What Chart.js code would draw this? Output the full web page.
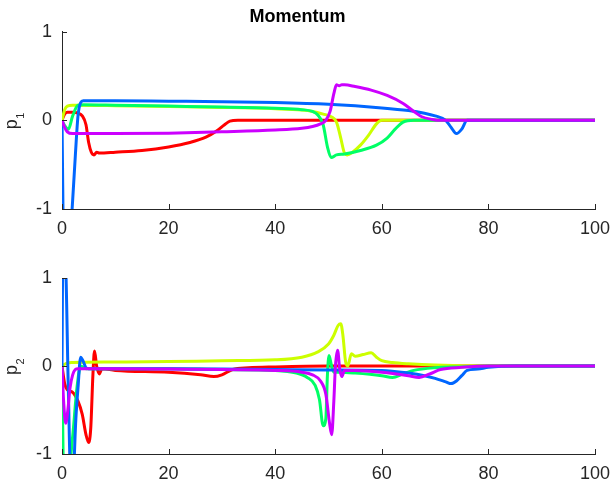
<!DOCTYPE html>
<html>
<head>
<meta charset="utf-8">
<script src="https://cdn.jsdelivr.net/npm/chart.js@4/dist/chart.umd.min.js"></script>
<style>
	html, body { margin: 0; padding: 0; background: #fff; }
	#wrap { position: relative; width: 610px; height: 486px; }
	.box { position: absolute; left: 0; width: 610px; height: 243px; }
</style>
</head>
<body>
<div id="wrap">
	<div class="box" style="top:0"><canvas id="top"></canvas></div>
	<div class="box" style="top:243px"><canvas id="bottom"></canvas></div>
</div>
<script>
// series names / colours (hsv(5))
const names = ['1', '2', '3', '4', '5'];
const colors = ['#ff0000', '#ccff00', '#00ff66', '#0066ff', '#cc00ff'];
const xTicks = [0, 20, 40, 60, 80, 100];
const yTicks = [-1, 0, 1];

// p1 (top panel)
const p1RedX = [0, 0.5, 1, 2, 3, 3.8, 4.5, 5, 5.5, 6, 6.5, 7, 10, 15, 20, 24, 27, 29, 30.5, 31.5, 33, 40, 100];
const p1RedY = [0, 0.07, 0.09, 0.09, 0.08, 0.05, -0.05, -0.25, -0.36, -0.39, -0.36, -0.37, -0.36, -0.34, -0.30, -0.25, -0.19, -0.12, -0.05, -0.01, 0, 0, 0];
const p1YelX = [0, 0.5, 1, 2, 10, 20, 30, 40, 45, 47, 49, 50.5, 51.5, 52.3, 53, 53.5, 54.5, 56, 57.5, 59, 60, 62, 100];
const p1YelY = [0, 0.12, 0.16, 0.17, 0.165, 0.155, 0.145, 0.13, 0.115, 0.1, 0.07, 0.04, -0.02, -0.2, -0.37, -0.39, -0.36, -0.28, -0.17, -0.04, 0, 0, 0];
const p1GrnX = [0, 0.5, 1.2, 2, 3, 4, 10, 20, 30, 40, 45, 47, 48, 49, 49.8, 50.5, 51.5, 53, 56, 59, 61, 62.5, 64, 66, 100];
const p1GrnY = [0, -0.06, -0.1, 0.05, 0.17, 0.175, 0.17, 0.16, 0.15, 0.135, 0.12, 0.1, 0.06, -0.05, -0.3, -0.42, -0.39, -0.38, -0.34, -0.28, -0.2, -0.1, -0.02, 0, 0];
const p1BluX = [0, 0.3, 1.5, 2, 2.5, 3, 3.5, 4, 10, 20, 30, 40, 50, 60, 65, 68, 70, 72, 73, 74, 75, 76, 80, 100];
const p1BluY = [0, -1.3, -1.3, -0.9, -0.4, 0.05, 0.2, 0.22, 0.22, 0.215, 0.21, 0.2, 0.18, 0.14, 0.11, 0.08, 0.05, 0.0, -0.08, -0.15, -0.1, 0, 0, 0];
const p1MagX = [0, 0.5, 1, 2, 10, 20, 30, 40, 45, 47, 48.5, 49.5, 50.3, 51, 51.5, 52, 52.5, 53, 55, 58, 61, 64, 66, 67.5, 69.5, 71, 100];
const p1MagY = [0, -0.08, -0.13, -0.15, -0.15, -0.145, -0.13, -0.11, -0.09, -0.07, -0.04, 0.0, 0.1, 0.3, 0.4, 0.39, 0.4, 0.4, 0.38, 0.34, 0.28, 0.19, 0.1, 0.04, 0.01, 0, 0];

// p2 (bottom panel)
const p2RedX = [0, 0.5, 1, 2, 3, 3.8, 4.5, 5, 5.4, 5.8, 6.1, 6.5, 7, 7.5, 10, 20, 26, 28.5, 30, 32, 35, 40, 50, 100];
const p2RedY = [0, -0.2, -0.27, -0.3, -0.4, -0.55, -0.78, -0.87, -0.7, -0.1, 0.17, 0.0, -0.09, -0.03, -0.05, -0.07, -0.1, -0.12, -0.1, -0.04, -0.02, -0.01, 0, 0];
const p2YelX = [0, 0.5, 1, 2, 10, 20, 30, 40, 45, 48, 50, 51, 51.8, 52.3, 52.7, 53.2, 53.6, 54.3, 55, 56.5, 58, 59, 60, 62, 65, 70, 80, 100];
const p2YelY = [0, 0.02, 0.035, 0.04, 0.045, 0.05, 0.06, 0.07, 0.1, 0.16, 0.25, 0.35, 0.46, 0.48, 0.35, 0.05, 0.0, 0.14, 0.11, 0.13, 0.15, 0.1, 0.06, 0.04, 0.025, 0.01, 0, 0];
const p2GrnX = [0, 0.3, 1.2, 2, 2.8, 3.5, 4.5, 10, 20, 30, 40, 44, 46, 47.5, 48.3, 49, 49.5, 49.8, 50.1, 50.5, 51, 52, 55, 60, 62, 64, 66, 70, 75, 80, 100];
const p2GrnY = [0, -1.2, -1.2, -0.8, -0.25, 0.0, -0.03, -0.03, -0.03, -0.04, -0.05, -0.08, -0.13, -0.22, -0.38, -0.68, -0.6, -0.1, 0.12, 0.02, -0.07, -0.07, -0.08, -0.11, -0.13, -0.09, -0.05, -0.02, -0.01, 0, 0];
const p2BluX = [0, 0.15, 0.6, 1.2, 1.6, 2.1, 2.6, 3, 3.5, 4, 4.5, 5, 10, 20, 30, 40, 50, 60, 65, 68, 70, 72, 73, 74, 75, 76, 78, 80, 85, 100];
const p2BluY = [0, 1.2, 1.2, -0.3, -1.2, -1.2, -0.6, -0.25, 0.1, 0.05, -0.02, -0.03, -0.03, -0.03, -0.035, -0.04, -0.045, -0.05, -0.08, -0.11, -0.14, -0.18, -0.2, -0.17, -0.11, -0.05, -0.035, -0.015, 0, 0];
const p2MagX = [0, 0.3, 0.7, 1.1, 1.5, 2, 2.5, 3, 10, 20, 30, 40, 45, 47, 48.5, 49.5, 50.2, 50.6, 51, 51.3, 51.7, 52.1, 52.5, 53, 55, 60, 65, 67, 69, 71, 75, 80, 100];
const p2MagY = [0, -0.4, -0.65, -0.5, -0.25, -0.1, -0.04, -0.03, -0.03, -0.035, -0.04, -0.05, -0.07, -0.1, -0.17, -0.32, -0.65, -0.78, -0.4, 0.0, 0.18, -0.03, -0.12, -0.05, -0.05, -0.07, -0.11, -0.13, -0.09, -0.04, -0.015, 0, 0];

const font = '"Liberation Sans", Arial, Helvetica, sans-serif';
const ink = '#262626';

let zip = (xs, ys) => xs.map((x, i) => ({x: x, y: ys[i]}));

// MATLAB style ticks pointing into the axes, plus the p_n axis label
const axisExtras = {
	id: 'axisExtras',
	afterDraw(chart, args, opts) {
		let ctx = chart.ctx;
		let area = chart.chartArea;
		let sx = chart.scales.x, sy = chart.scales.y;
		ctx.save();
		ctx.strokeStyle = ink;
		ctx.lineWidth = 1;
		ctx.beginPath();
		for (let v of xTicks) {
			let px = Math.round(sx.getPixelForValue(v)) + 0.5;
			ctx.moveTo(px, area.bottom);
			ctx.lineTo(px, area.bottom - 5);
		}
		for (let v of yTicks) {
			let py = Math.round(sy.getPixelForValue(v)) + 0.5;
			ctx.moveTo(area.left, py);
			ctx.lineTo(area.left + 5, py);
		}
		ctx.stroke();

		// rotated "p" with subscript
		ctx.translate(0, sy.getPixelForValue(0));
		ctx.rotate(-Math.PI / 2);
		ctx.fillStyle = ink;
		ctx.textAlign = 'left';
		ctx.textBaseline = 'alphabetic';
		ctx.font = '18px ' + font;
		ctx.fillText('p', -9, 16.5);
		ctx.font = '11px ' + font;
		ctx.fillText(opts.sub, 1.5, 24);
		ctx.restore();
	}
};

let makeChart = (id, series, sub, withTitle, padTop, xHeight) => {
	let datasets = series.map((s, i) => ({
		label: names[i],
		data: zip(s[0], s[1]),
		borderColor: colors[i],
		borderWidth: 3,
		pointRadius: 0,
		fill: false,
		cubicInterpolationMode: 'monotone',
		order: series.length - i
	}));
	return new Chart(document.getElementById(id), {
		type: 'line',
		data: {datasets: datasets},
		plugins: [axisExtras],
		options: {
			responsive: true,
			maintainAspectRatio: false,
			animation: false,
			layout: {padding: {top: padTop, right: 15, left: 0, bottom: 0}},
			plugins: {
				legend: {display: false},
				tooltip: {enabled: false},
				axisExtras: {sub: sub},
				title: {
					display: withTitle,
					text: 'Momentum',
					color: '#000',
					font: {family: font, size: 18, weight: 'bold'},
					padding: {top: 6, bottom: 4}
				}
			},
			scales: {
				x: {
					type: 'linear',
					min: 0,
					max: 100,
					afterFit: (s) => { s.height = xHeight; s.paddingRight = 0; s.paddingLeft = 0; },
					afterBuildTicks: (s) => { s.ticks = xTicks.map(v => ({value: v})); },
					ticks: {color: ink, font: {family: font, size: 18}, padding: 9, maxRotation: 0},
					grid: {drawOnChartArea: false, drawTicks: false},
					border: {display: true, color: ink, width: 1}
				},
				y: {
					type: 'linear',
					min: -1,
					max: 1,
					afterFit: (s) => { s.width = 62; },
					afterBuildTicks: (s) => { s.ticks = yTicks.map(v => ({value: v})); },
					ticks: {color: ink, font: {family: font, size: 18}, padding: 10},
					grid: {drawOnChartArea: false, drawTicks: false},
					border: {display: true, color: ink, width: 1}
				}
			}
		}
	});
};

makeChart('top', [[p1RedX, p1RedY], [p1YelX, p1YelY], [p1GrnX, p1GrnY], [p1BluX, p1BluY], [p1MagX, p1MagY]], '1', true, 0, 34);
makeChart('bottom', [[p2RedX, p2RedY], [p2YelX, p2YelY], [p2GrnX, p2GrnY], [p2BluX, p2BluY], [p2MagX, p2MagY]], '2', false, 35, 32);
</script>
</body>
</html>
